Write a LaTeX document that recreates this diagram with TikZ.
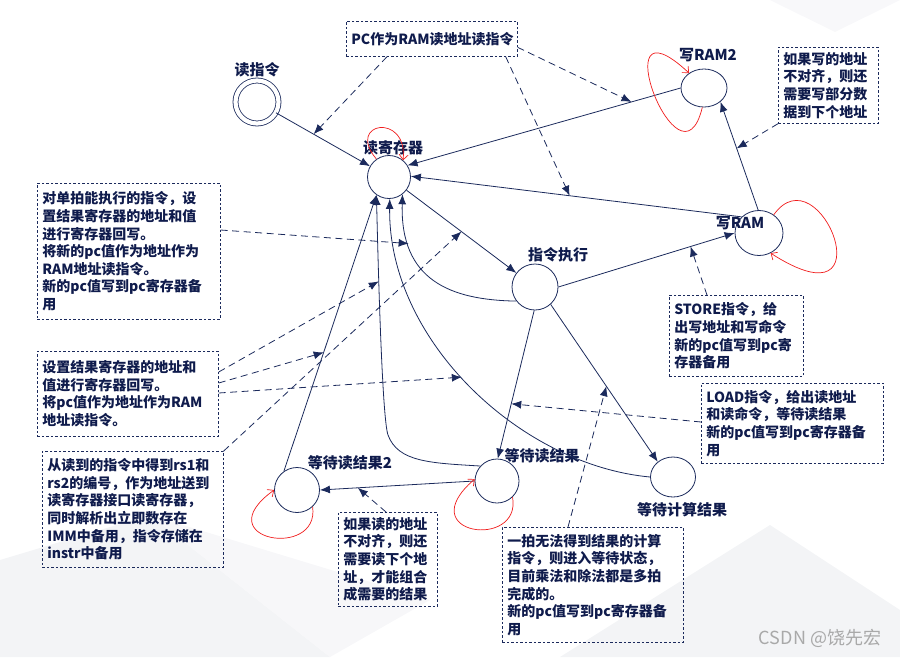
\documentclass[tikz,border=0pt]{standalone}
\usepackage{fontspec}
\setmainfont{Noto Sans CJK SC}
\usetikzlibrary{arrows.meta,shapes.geometric}
\definecolor{fsmInk}  {HTML}{0F1B4C}
\definecolor{fsmLine} {HTML}{1B2A5C}
\definecolor{fsmLoop} {HTML}{F01C1C}
\definecolor{fsmMark} {HTML}{A9A9A9}
\definecolor{fsmShade}{HTML}{F3F4F6}

\begin{document}
\begin{tikzpicture}[x=1pt,y=-1pt,
    fsmstate/.style={ellipse,draw=fsmLine,line width=0.8pt,minimum width=44pt,minimum height=44pt,inner sep=0pt},
    statelbl/.style={text=fsmInk,font=\fontsize{15}{17}\selectfont\bfseries,inner sep=0pt},
    notebox/.style={draw=fsmLine,line width=0.7pt,dash pattern=on 2.5pt off 2pt,anchor=north west,
      align=left,text=fsmInk,font=\fontsize{14}{17.6}\selectfont\bfseries,inner xsep=5pt,inner ysep=3pt},
    trans/.style={draw=fsmLine,line width=0.8pt,-{Latex[length=10pt,width=8pt]}},
    notearrow/.style={draw=fsmLine,line width=0.8pt,dash pattern=on 7pt off 4.5pt,-{Latex[length=10pt,width=8pt]}},
    loopln/.style={draw=fsmLoop,line width=0.7pt,-{Straight Barb[length=5pt,width=9pt]}}]
  \useasboundingbox (0,0) rectangle (900,657);
  % template background
  \fill[fsmShade] (0,560) -- (150,515) -- (330,657) -- (0,657) -- cycle;
  \fill[fsmShade!70!white] (150,515) -- (430,600) -- (330,657) -- cycle;
  \fill[fsmShade] (560,657) -- (770,525) -- (900,610) -- (900,657) -- cycle;
  \fill[fsmShade!60!white] (770,0) -- (835,32) -- (900,0) -- cycle;

  % states
  \node[fsmstate,double=white,double distance=4.2pt,minimum width=43pt,minimum height=43pt] (rdi) at (257,102) {};
  \node[fsmstate,minimum width=43pt,minimum height=43pt] (rreg) at (389,177) {};
  \node[fsmstate,minimum width=46pt,minimum height=46pt] (exec) at (535,287) {};
  \node[fsmstate,minimum width=46pt,minimum height=38pt] (wram2) at (704,88) {};
  \node[fsmstate,minimum width=48pt,minimum height=45pt] (wram) at (759,233) {};
  \node[fsmstate,minimum width=45pt,minimum height=45pt] (wrd2) at (297,490) {};
  \node[fsmstate] (wrd) at (497,481) {};
  \node[fsmstate,minimum width=45pt,minimum height=40pt] (wcalc) at (673,477) {};

  \node[statelbl] (rdi-l) at (257,70) {读指令};
  \node[statelbl] (rreg-l) at (393,148) {读寄存器};
  \node[statelbl] (exec-l) at (558,255) {指令执行};
  \node[statelbl] (wram2-l) at (708,55) {写RAM2};
  \node[statelbl] (wram-l) at (740,223) {写RAM};
  \node[statelbl] (wrd2-l) at (350,463) {等待读结果2};
  \node[statelbl] (wrd-l) at (542,456) {等待读结果};
  \node[statelbl] (wcalc-l) at (682,510) {等待计算结果};

  % transitions
  \draw[trans] (rdi) -- (rreg) coordinate[pos=0.4] (ca);
  \draw[trans] (wram2.west) -- (rreg.32) coordinate[pos=0.18] (cb);
  \draw[trans] (wram.137) -- (rreg.2) coordinate[pos=0.52] (cc);
  \draw[trans] (rreg) -- (exec) coordinate[pos=0.5] (ci);
  \draw[trans] (exec.east) -- (wram.west) coordinate[pos=0.75] (cl);
  \draw[trans] (wram.92) -- (wram2.-40) coordinate[pos=0.57] (cd);
  \draw[trans] (exec.217) .. controls (450,300) and (400,280) .. (rreg.-52) coordinate[pos=0.77] (ce);
  \draw[trans] (exec.-92) -- (wrd.88) coordinate[pos=0.63] (cm);
  \draw[trans] (exec.-48) -- (wcalc.135) coordinate[pos=0.52] (ck);
  \draw[trans] (wcalc.west) .. controls (520,465) and (388,340) .. (rreg.-88) coordinate[pos=0.53] (ch);
  \draw[trans] (wrd.138) .. controls (430,463) and (398,462) .. (388,435)
    .. controls (382,418) and (378,260) .. (rreg.-125) coordinate[pos=0.67] (cf);
  \draw[trans] (wrd2.125) -- (rreg.-125) coordinate[pos=0.43] (cg);
  \draw[trans] (wrd.west) -- (wrd2.east) coordinate[pos=0.755] (cj);

  % self loops
  \draw[loopln] (rreg.125) .. controls (345,122) and (408,112) .. (rreg.50);
  \draw[loopln] (wram2.-95) .. controls (680,200) and (600,-10) .. (wram2.135);
  \draw[loopln] (wram.51) .. controls (820,150) and (890,330) .. (wram.-60);
  \draw[loopln] (wrd2.-47) .. controls (320,560) and (205,540) .. (wrd2.west);
  \draw[loopln] (wrd.-46) .. controls (522,550) and (410,535) .. (wrd.175);

  % notes
  \node[notebox,align=center,text width=161pt,minimum width=171pt,minimum height=35pt] (pcnote) at (346,21) {PC作为RAM读地址读指令};
  \node[notebox,text width=90pt,minimum width=100pt,minimum height=76pt] (wrnote) at (778,47)
    {如果写的地址\\不对齐，则还\\需要写部分数\\据到下个地址};
  \node[notebox,text width=173pt,minimum width=183pt,minimum height=136pt] (onenote) at (37,183)
    {对单拍能执行的指令，设\\置结果寄存器的地址和值\\进行寄存器回写。\\将新的pc值作为地址作为\\RAM地址读指令。\\新的pc值写到pc寄存器备\\用};
  \node[notebox,text width=171pt,minimum width=181pt,minimum height=85pt] (twonote) at (37,351)
    {设置结果寄存器的地址和\\值进行寄存器回写。\\将pc值作为地址作为RAM\\地址读指令。};
  \node[notebox,text width=171pt,minimum width=181pt,minimum height=116pt] (decnote) at (42,451)
    {从读到的指令中得到rs1和\\rs2的编号，作为地址送到\\读寄存器接口读寄存器，\\同时解析出立即数存在\\IMM中备用，指令存储在\\instr中备用};
  \node[notebox,text width=89pt,minimum width=99pt,minimum height=94pt] (rdnote) at (338,512)
    {如果读的地址\\不对齐，则还\\需要读下个地\\址，才能组合\\成需要的结果};
  \node[notebox,text width=171pt,minimum width=181pt,minimum height=115pt] (mulnote) at (502,527)
    {一拍无法得到结果的计算\\指令，则进入等待状态，\\目前乘法和除法都是多拍\\完成的。\\新的pc值写到pc寄存器备\\用};
  \node[notebox,text width=124pt,minimum width=134pt,minimum height=81pt] (stnote) at (669,295)
    {STORE指令，给\\出写地址和写命令\\新的pc值写到pc寄\\存器备用};
  \node[notebox,text width=172pt,minimum width=182pt,minimum height=80pt] (ldnote) at (701,383)
    {LOAD指令，给出读地址\\和读命令，等待读结果\\新的pc值写到pc寄存器备\\用};

  \draw[notearrow] ([xshift=41pt]pcnote.south west) -- (ca);
  \draw[notearrow] ([yshift=-8.5pt]pcnote.east) -- (cb);
  \draw[notearrow] ([xshift=-12pt]pcnote.south east) -- (cc);
  \draw[notearrow] (wrnote.south west) -- (cd);
  \draw[notearrow] ([yshift=-47pt]onenote.north east) -- (ce);
  \draw[notearrow] ([yshift=-21pt]twonote.north east) -- (cf);
  \draw[notearrow] ([yshift=-32pt]twonote.north east) -- (cg);
  \draw[notearrow] ([yshift=-42pt]twonote.north east) -- (ch);
  \draw[notearrow] (decnote.north east) -- (ci);
  \draw[notearrow] ([xshift=48pt]rdnote.north west) -- (cj);
  \draw[notearrow] ([xshift=66pt]mulnote.north west) -- (ck);
  \draw[notearrow] ([xshift=38pt]stnote.north west) -- (cl);
  \draw[notearrow] ([yshift=-39pt]ldnote.north west) -- (cm);

  \node[text=fsmMark,font=\fontsize{18}{20}\selectfont,inner sep=0pt] (mark) at (820,638) {CSDN @饶先宏};
\end{tikzpicture}
\end{document}
